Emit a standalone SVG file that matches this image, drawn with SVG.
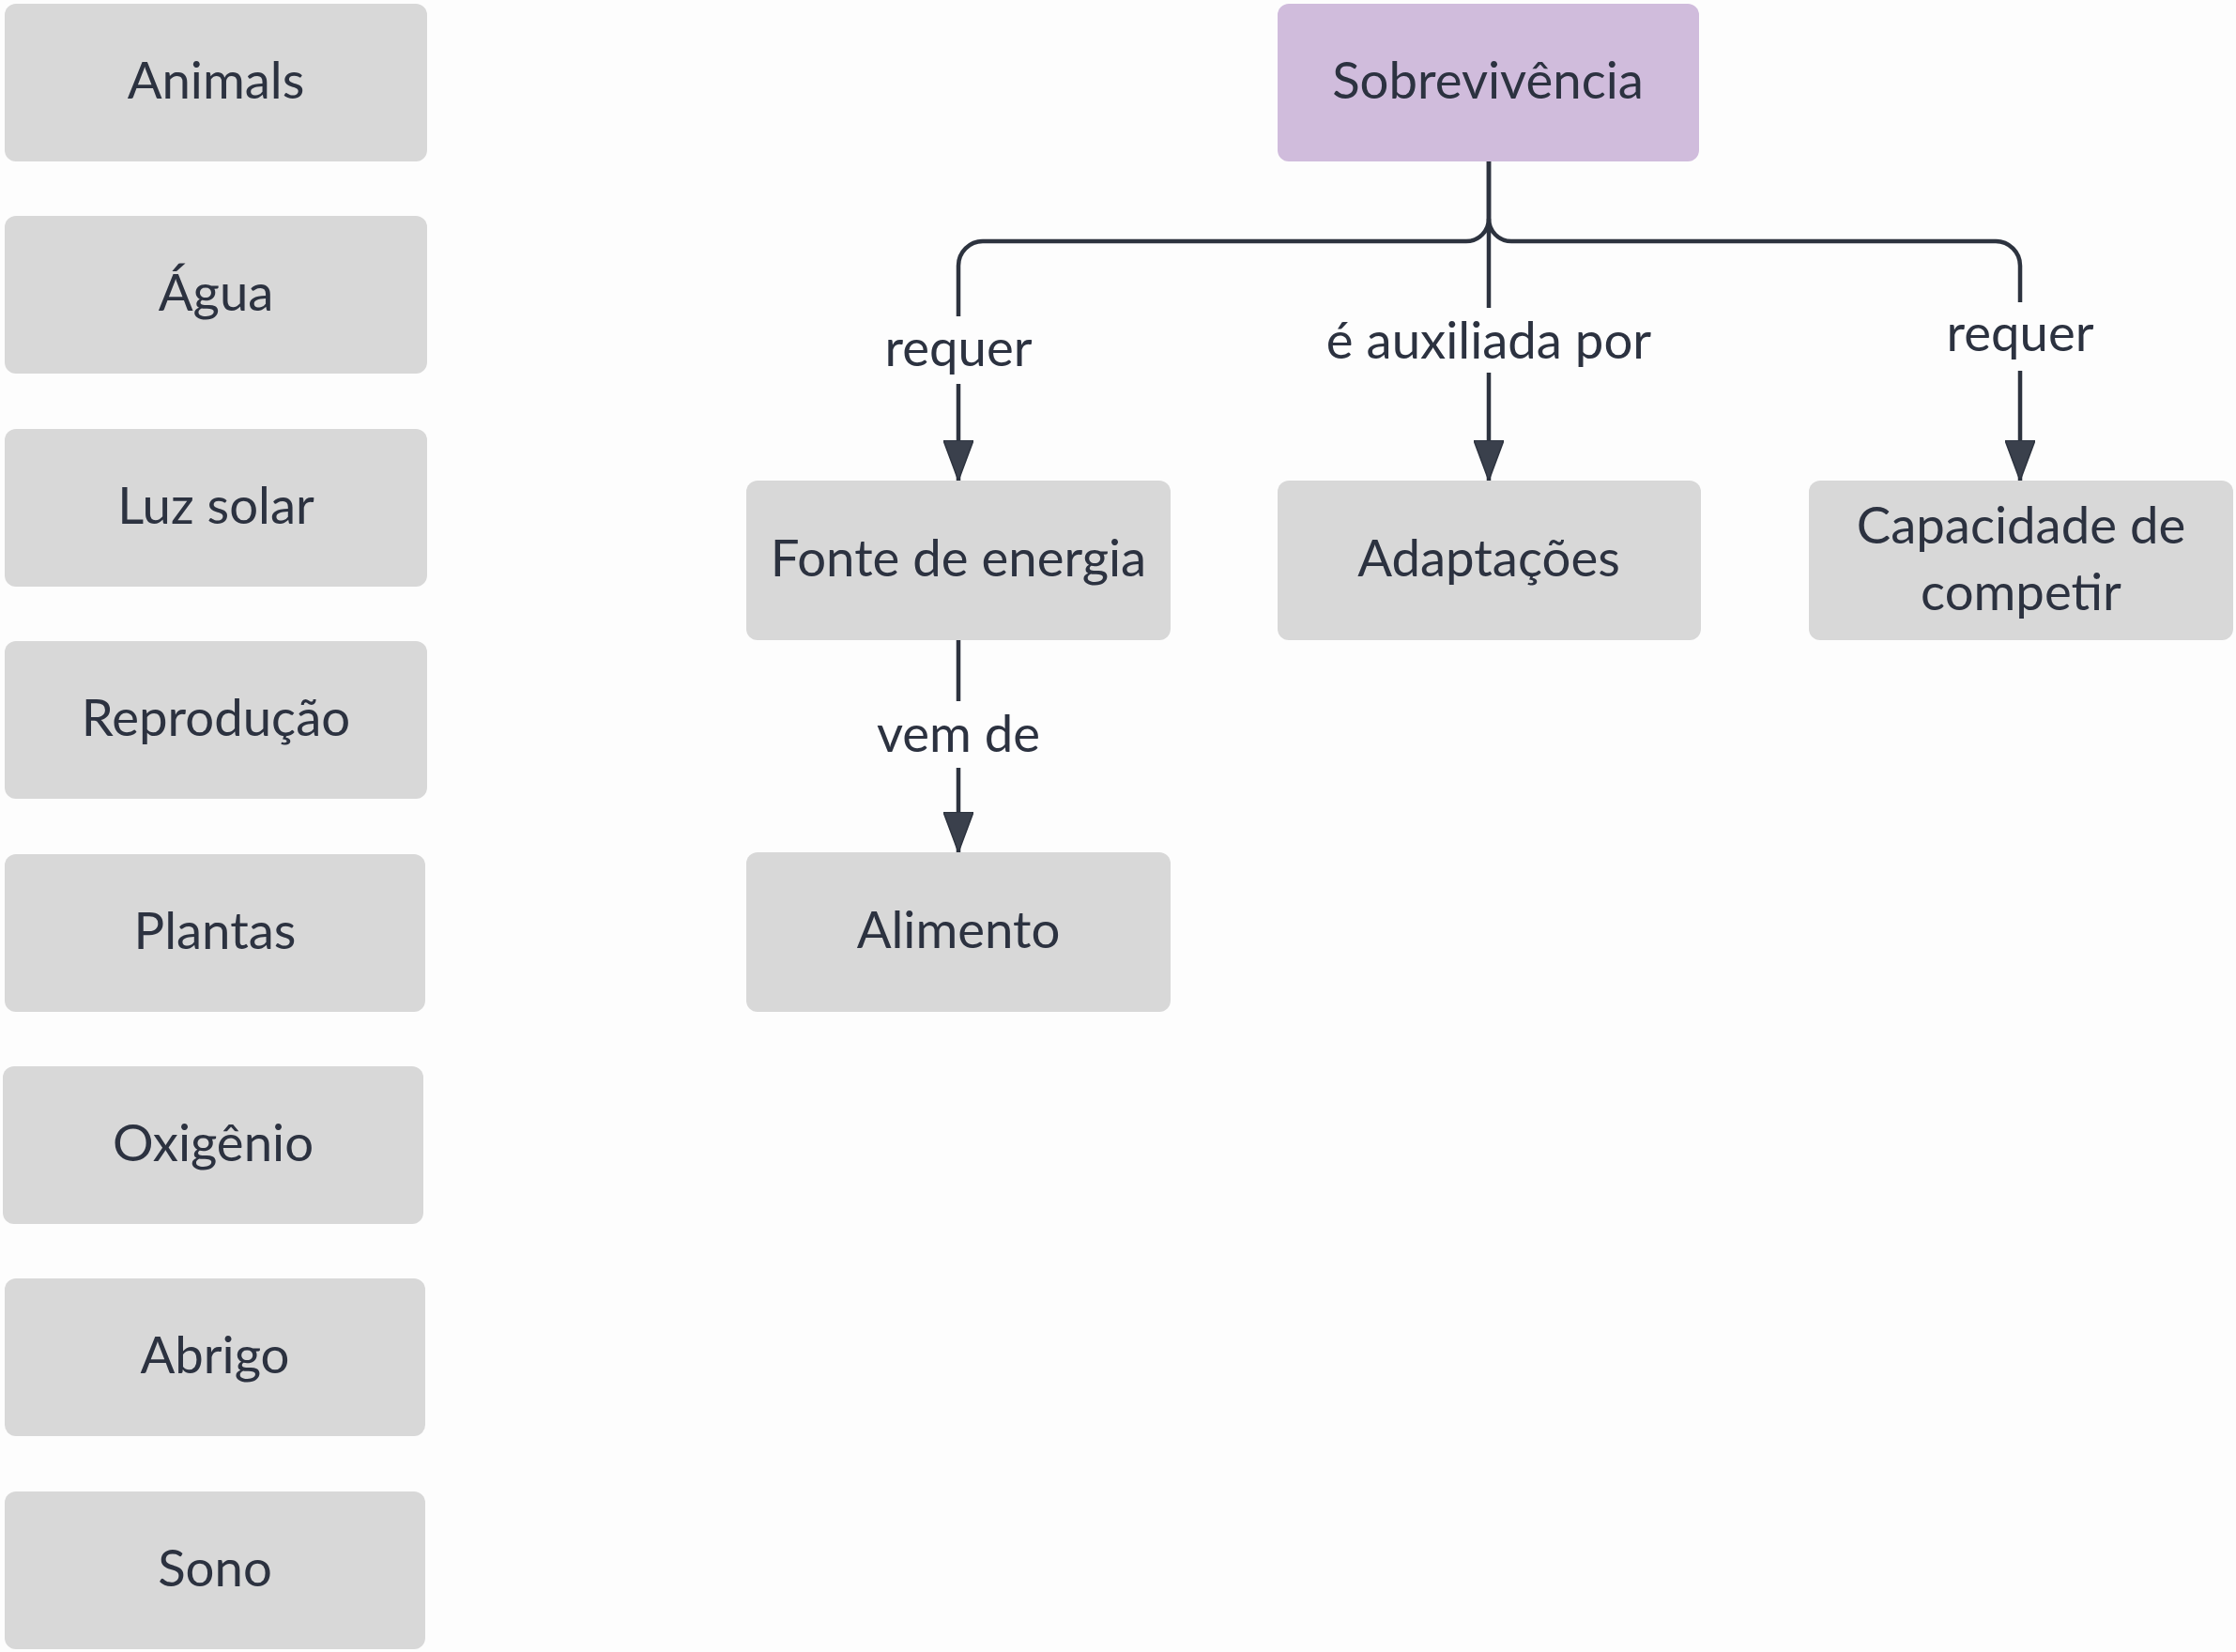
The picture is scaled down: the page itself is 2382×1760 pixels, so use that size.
<svg xmlns="http://www.w3.org/2000/svg" width="2382" height="1760" viewBox="0 0 2382 1760">
<defs>
<style>
.box{fill:#d8d8d8;}
.root{fill:#d0bcdc;}
.t{font-family:Lato,"Liberation Sans",sans-serif;font-size:54.5px;fill:#2c3240;text-anchor:middle;}
.lbl{font-family:Lato,"Liberation Sans",sans-serif;font-size:54.5px;fill:#2c3240;text-anchor:middle;}
.edge{fill:none;stroke:#2d333f;stroke-width:4.5;}
</style>
<marker id="arr" viewBox="0 0 43 32" refX="43" refY="16" markerWidth="43" markerHeight="32" markerUnits="userSpaceOnUse" orient="auto">
<path d="M0,0 L43,16 L0,32 Z" fill="#3a404c" stroke="#2d333f" stroke-width="1.5" stroke-linejoin="round"/>
</marker>
</defs>
<rect width="2382" height="1760" fill="#fdfdfd"/>

<g id="connectors">
<path class="edge" d="M1586 172 V233 A24 24 0 0 1 1562 257 H1047 A26 26 0 0 0 1021 283 V337 M1021 409 V512" marker-end="url(#arr)"/>
<path class="edge" d="M1586 172 V328 M1586 397 V512" marker-end="url(#arr)"/>
<path class="edge" d="M1586 233 A24 24 0 0 0 1610 257 H2126 A26 26 0 0 1 2152 283 V322 M2152 395 V512" marker-end="url(#arr)"/>
<path class="edge" d="M1021 682 V747 M1021 818 V908" marker-end="url(#arr)"/>
<text class="lbl" x="1021" y="390">requer</text>
<text class="lbl" x="1586" y="382">é auxiliada por</text>
<text class="lbl" x="2152" y="374">requer</text>
<text class="lbl" x="1021" y="801">vem de</text>
</g>

<g id="n-animals"><rect class="box" x="5" y="4" width="450" height="168" rx="12"/><text class="t" x="230" y="105">Animals</text></g>
<g id="n-agua"><rect class="box" x="5" y="230" width="450" height="168" rx="12"/><text class="t" x="230" y="331">Água</text></g>
<g id="n-luz"><rect class="box" x="5" y="457" width="450" height="168" rx="12"/><text class="t" x="230" y="558">Luz solar</text></g>
<g id="n-reproducao"><rect class="box" x="5" y="683" width="450" height="168" rx="12"/><text class="t" x="230" y="784">Reprodução</text></g>
<g id="n-plantas"><rect class="box" x="5" y="910" width="448" height="168" rx="12"/><text class="t" x="229" y="1011">Plantas</text></g>
<g id="n-oxigenio"><rect class="box" x="3" y="1136" width="448" height="168" rx="12"/><text class="t" x="227" y="1237">Oxigênio</text></g>
<g id="n-abrigo"><rect class="box" x="5" y="1362" width="448" height="168" rx="12"/><text class="t" x="229" y="1463">Abrigo</text></g>
<g id="n-sono"><rect class="box" x="5" y="1589" width="448" height="168" rx="12"/><text class="t" x="229" y="1690">Sono</text></g>

<g id="n-sobrevivencia"><rect class="root" x="1361" y="4" width="449" height="168" rx="12"/><text class="t" x="1585" y="105">Sobrevivência</text></g>
<g id="n-fonte"><rect class="box" x="795" y="512" width="452" height="170" rx="12"/><text class="t" x="1021" y="614">Fonte de energia</text></g>
<g id="n-adaptacoes"><rect class="box" x="1361" y="512" width="451" height="170" rx="12"/><text class="t" x="1586" y="614">Adaptações</text></g>
<g id="n-capacidade"><rect class="box" x="1927" y="512" width="452" height="170" rx="12"/><text class="t" x="2153" y="579">Capacidade de</text><text class="t" x="2153" y="650">competir</text></g>
<g id="n-alimento"><rect class="box" x="795" y="908" width="452" height="170" rx="12"/><text class="t" x="1021" y="1010">Alimento</text></g>
</svg>
